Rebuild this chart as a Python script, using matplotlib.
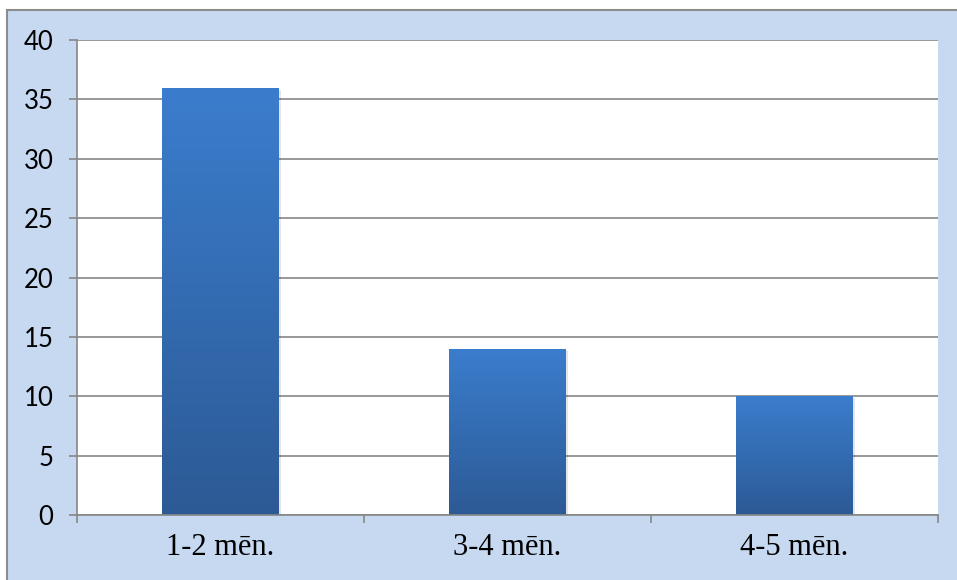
import numpy as np
import matplotlib
matplotlib.use("Agg")
import matplotlib.pyplot as plt
from matplotlib.patches import Rectangle
from matplotlib import patheffects as pe
from matplotlib.colors import LinearSegmentedColormap

categories = ["1-2 mēn.", "3-4 mēn.", "4-5 mēn."]
values = [36, 14, 10]
y_ticks = [0, 5, 10, 15, 20, 25, 30, 35, 40]

W, H = 957, 580
fig = plt.figure(figsize=(W / 100, H / 100), dpi=100)
fig.patch.set_facecolor("white")

# chart area background with grey border on top/left
fig.patches.append(Rectangle((7 / W, -0.01), 1.02, 1 - 10 / H + 0.01,
                             transform=fig.transFigure, facecolor="#c6d9f0",
                             edgecolor="#8c8c8c", linewidth=1.5, zorder=-10))

ax = fig.add_axes([77 / W, 1 - 515 / H, (938 - 77) / W, (515 - 40) / H])
ax.set_facecolor("white")

grid_c = "#868686"
x = np.arange(len(categories))
bars = ax.bar(x, values, width=0.405, color="#3370b8", zorder=3,
              path_effects=[pe.SimplePatchShadow(offset=(2, -1.5), alpha=0.1, shadow_rgbFace="#000000"), pe.Normal()])

cmap = LinearSegmentedColormap.from_list("barfade", ["#2c5a95", "#3b7dcd"])
grad = np.linspace(0, 1, 256).reshape(-1, 1)
for b in bars:
    x0, y0 = b.get_x(), b.get_y()
    im = ax.imshow(grad, cmap=cmap, origin="lower", aspect="auto",
                   extent=(x0, x0 + b.get_width(), y0, y0 + b.get_height()),
                   zorder=4, interpolation="bilinear")
    im.set_clip_path(b)

ax.set_xlim(-0.5, len(categories) - 0.5)
ax.set_ylim(0, 40)
ax.set_yticks(y_ticks)
ax.set_yticklabels([str(v) for v in y_ticks], fontfamily=["Lato", "DejaVu Sans"],
                   fontsize=18.5, color="black")
ax.yaxis.grid(True, color=grid_c, linewidth=1.2, zorder=1)
ax.set_axisbelow(True)

for s in ["top", "right"]:
    ax.spines[s].set_visible(False)
for s in ["left", "bottom"]:
    ax.spines[s].set_color(grid_c)
    ax.spines[s].set_linewidth(1.2)
ax.spines["bottom"].set_zorder(5)

ax.tick_params(axis="y", length=6, width=1.2, color=grid_c, pad=11)

ax.set_xticks(x)
ax.set_xticklabels(categories, fontfamily=["Liberation Serif", "DejaVu Serif"], fontsize=22)
ax.tick_params(axis="x", which="major", length=0, pad=13)
ax.set_xticks(np.arange(len(categories) + 1) - 0.5, minor=True)
ax.tick_params(axis="x", which="minor", length=6, width=1.2, color=grid_c)

fig.savefig("out.png", dpi=100, facecolor=fig.get_facecolor())
